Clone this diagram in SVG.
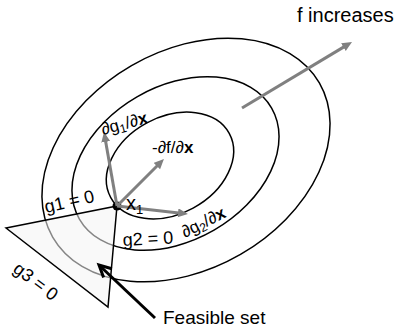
<svg xmlns="http://www.w3.org/2000/svg" width="396" height="327" viewBox="0 0 396 327">
<style>
  .lvl { fill: none; stroke: #000; stroke-width: 1.5; }
  .txt { font-family: "Liberation Sans", Arial, sans-serif; font-size: 18px; fill: #000; }
  .garrow { stroke: #808080; stroke-width: 3; fill: none; }
  .sub { font-size: 12px; fill: #000; }
  .b { font-weight: bold; }
</style>
<defs>
  <marker id="gh" markerUnits="userSpaceOnUse" markerWidth="11" markerHeight="10" refX="3" refY="4.5" orient="auto">
    <path d="M0,0 L10,4.5 L0,9 z" fill="#808080"/>
  </marker>
</defs>
<rect width="396" height="327" fill="#fff"/>

<g id="level-sets">
  <ellipse id="outer" class="lvl" cx="186" cy="160" rx="154" ry="109" transform="rotate(-30 186 160)"/>
  <ellipse id="middle" class="lvl" cx="175.5" cy="163.5" rx="111" ry="77" transform="rotate(-30 175.5 163.5)"/>
  <ellipse id="inner" class="lvl" cx="170" cy="165.5" rx="67.4" ry="48.4" transform="rotate(-28.5 170 165.5)"/>
</g>

<g id="feasible-set">
  <polygon points="6,228 117,206 108,307" fill="#f4f4f4" fill-opacity="0.55" stroke="#000" stroke-width="1.5" stroke-linejoin="miter"/>
</g>

<g id="x1-point">
  <circle cx="117" cy="206" r="4.5" fill="#000"/>
</g>

<g id="connectors">
  <line id="dg1" class="garrow" x1="117" y1="206" x2="105.2" y2="138.9" marker-end="url(#gh)"/>
  <line id="df" class="garrow" x1="117" y1="206" x2="159" y2="164" marker-end="url(#gh)"/>
  <line id="dg2" class="garrow" x1="117" y1="206" x2="181" y2="213.2" marker-end="url(#gh)"/>
  <line id="finc" class="garrow" x1="242" y1="108" x2="346" y2="45.6" marker-end="url(#gh)"/>
  <g id="feasible-arrow" stroke="#000" stroke-width="3" fill="none">
    <line x1="155" y1="318" x2="100.5" y2="266.5"/>
    <path d="M103.6,277.6 L99,265 L111.8,268.8" stroke-linejoin="miter"/>
  </g>
</g>

<g id="labels">
  <text class="txt" x="297" y="22" style="font-size:20px">f increases</text>
  <text class="txt" x="163" y="324" style="font-size:19px">Feasible set</text>
  <text class="txt" transform="translate(46,213) rotate(-13)">g1 = 0</text>
  <text class="txt" transform="translate(123,246) rotate(-3)">g2 = 0</text>
  <text class="txt" transform="translate(12,271) rotate(37)">g3 = 0</text>
  <text class="txt" transform="translate(103,135) rotate(-15)" style="font-size:17px">∂g<tspan class="sub" dy="3">1</tspan><tspan dy="-3">/∂</tspan><tspan class="b">x</tspan></text>
  <text class="txt" x="152" y="153" style="font-size:17px">-∂f/∂<tspan class="b">x</tspan></text>
  <text class="txt" transform="translate(185,238) rotate(-27)" style="font-size:17px">∂g<tspan class="sub" dy="3">2</tspan><tspan dy="-3">/∂</tspan><tspan class="b">x</tspan></text>
  <text class="txt" x="126" y="210" style="font-size:20px">x<tspan class="sub" style="font-size:13px" dy="4">1</tspan></text>
</g>
</svg>
